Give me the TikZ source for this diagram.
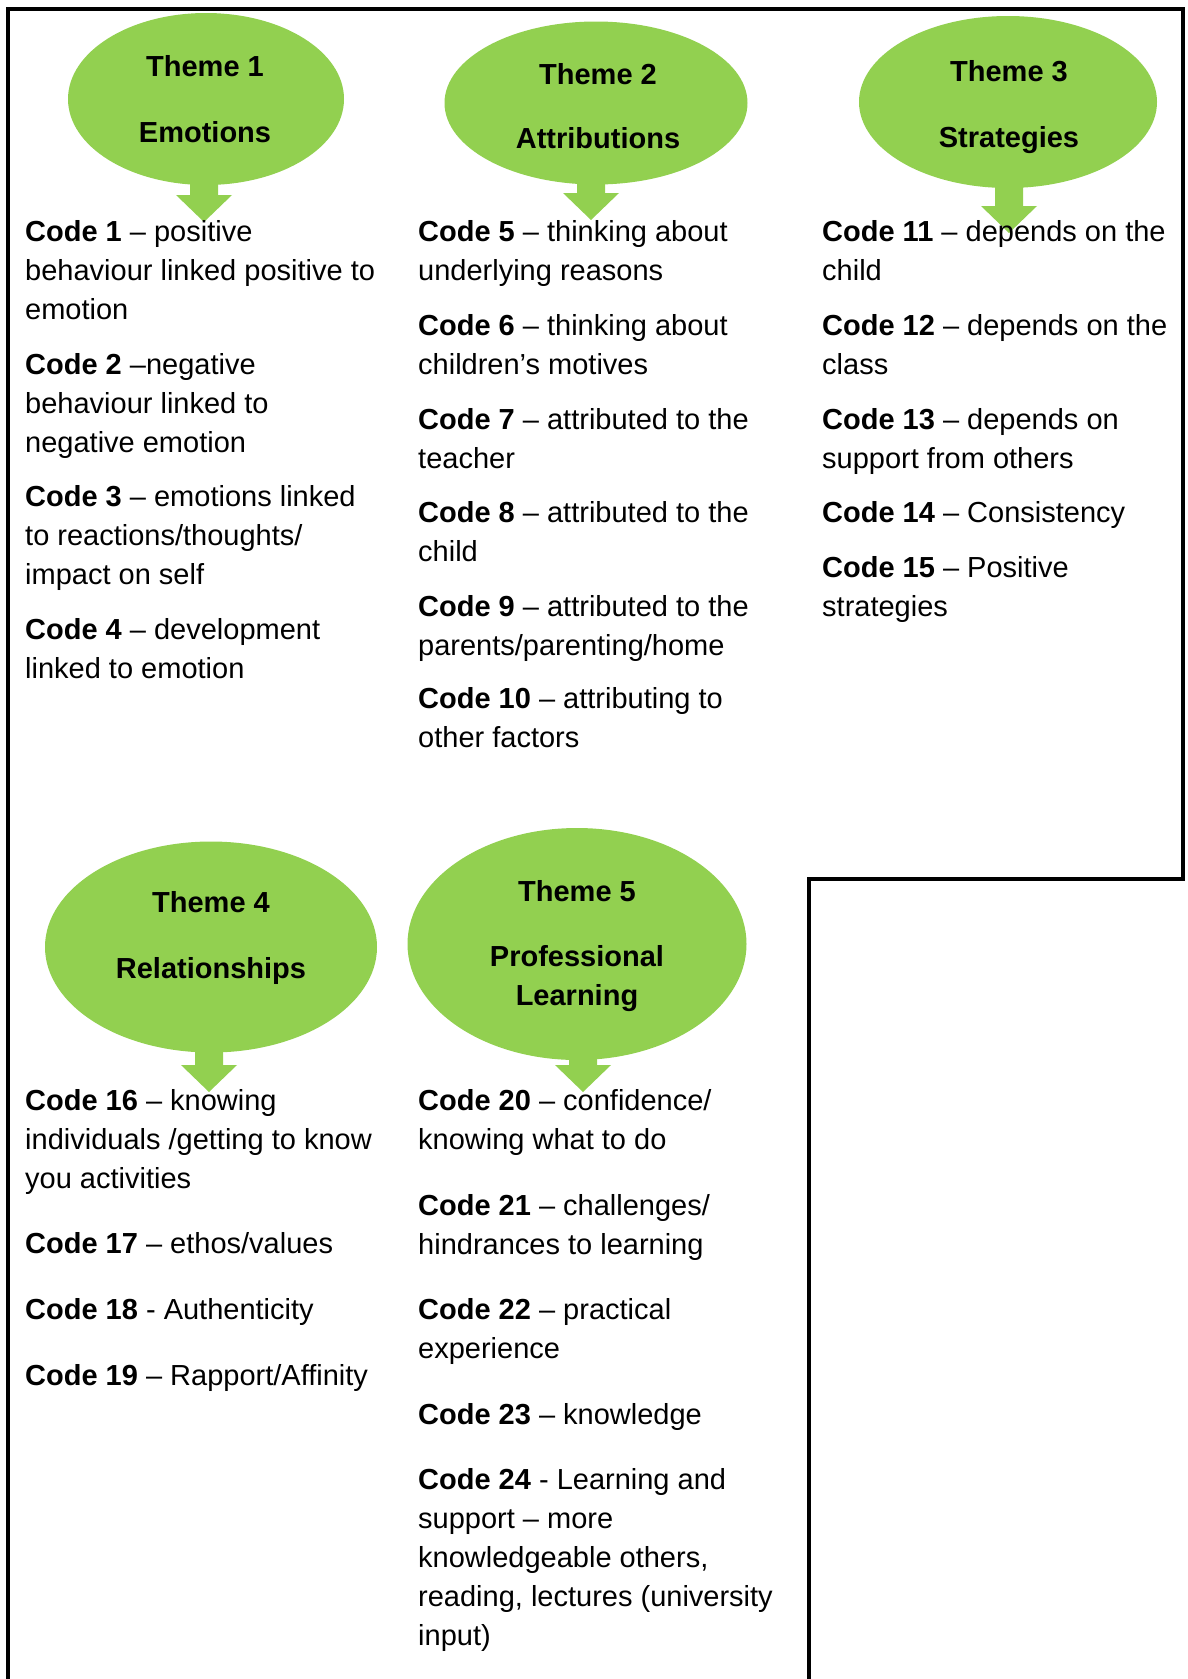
\documentclass[tikz,border=0pt]{standalone}
\usepackage{fontspec}
\setmainfont{Liberation Sans}
\usepackage{xcolor}
\usepackage{tikz}
\usetikzlibrary{calc}
\usetikzlibrary{shapes.geometric}

\definecolor{themegreen}{RGB}{146,208,80}
\newcommand{\code}[1]{\textbf{Code #1}}
% block arrow from the bottom of a theme bubble down to a tip coordinate
\newcommand{\themearrow}[2]{%
	\fill[themegreen] ($(#2 |- #1.south)+(-14,-3)$) -- ($(#2)+(-14,-27)$) -- ($(#2)+(-28,-27)$) -- (#2)
		-- ($(#2)+(28,-27)$) -- ($(#2)+(14,-27)$) -- ($(#2 |- #1.south)+(14,-3)$) -- cycle;}

\begin{document}
\begin{tikzpicture}[x=1pt,y=-1pt,font=\fontsize{29}{38.9}\selectfont,
	bubble/.style={ellipse,fill=themegreen,inner sep=0},
	themetitle/.style={align=center,inner sep=0,font=\fontsize{29}{38.9}\selectfont\bfseries},
	codes/.style={anchor=base west,align=left,inner sep=0}]
	\useasboundingbox (0,0) rectangle (1188,1679);
		\draw[line width=3.5] (8,1679) -- (8,9) -- (1183,9) -- (1183,879) -- (809,879) -- (809,1679);

		\node[bubble,minimum width=276,minimum height=172] (e1) at (206,99) {};
		\node[bubble,minimum width=303,minimum height=163] (e2) at (596,103) {};
		\node[bubble,minimum width=298,minimum height=172] (e3) at (1008,102) {};
		\node[bubble,minimum width=332,minimum height=211] (e4) at (211,947) {};
		\node[bubble,minimum width=339,minimum height=232] (e5) at (577,944) {};

		\node[themetitle] (theme1) at (205,99) {Theme 1\\[27pt]Emotions};
		\node[themetitle] (theme2) at (598,106) {Theme 2\\[25pt]Attributions};
		\node[themetitle] (theme3) at (1009,107) {Theme 3\\[27pt]Strategies};
		\node[themetitle] (theme4) at (211,938) {Theme 4\\[27pt]Relationships};
		\node[themetitle] (theme5) at (577,946) {Theme 5\\[26pt]Professional\\Learning};

		\coordinate (a1) at (204,222);
		\coordinate (a2) at (591,220);
		\coordinate (a3) at (1009,233);
		\coordinate (a4) at (209,1092);
		\coordinate (a5) at (583,1092);
		\themearrow{e1}{a1}
		\themearrow{e2}{a2}
		\themearrow{e3}{a3}
		\themearrow{e4}{a4}
		\themearrow{e5}{a5}

		% each block sits on the baseline of its last line
		\node[codes] (c1) at (25,319) {\code{1} – positive\\behaviour linked positive to\\emotion};
		\node[codes] (c2) at (25,452) {\code{2} –negative\\behaviour linked to\\negative emotion};
		\node[codes] (c3) at (25,584) {\code{3} – emotions linked\\to reactions/thoughts/\\impact on self};
		\node[codes] (c4) at (25,678) {\code{4} – development\\linked to emotion};

		\node[codes] (c5) at (418,280) {\code{5} – thinking about\\underlying reasons};
		\node[codes] (c6) at (418,374) {\code{6} – thinking about\\children’s motives};
		\node[codes] (c7) at (418,468) {\code{7} – attributed to the\\teacher};
		\node[codes] (c8) at (418,561) {\code{8} – attributed to the\\child};
		\node[codes] (c9) at (418,655) {\code{9} – attributed to the\\parents/parenting/home};
		\node[codes] (c10) at (418,747) {\code{10} – attributing to\\other factors};

		\node[codes] (c11) at (822,280) {\code{11} – depends on the\\child};
		\node[codes] (c12) at (822,374) {\code{12} – depends on the\\class};
		\node[codes] (c13) at (822,468) {\code{13} – depends on\\support from others};
		\node[codes] (c14) at (822,522) {\code{14} – Consistency};
		\node[codes] (c15) at (822,616) {\code{15} – Positive\\strategies};

		\node[codes] (c16) at (25,1188) {\code{16} – knowing\\individuals /getting to know\\you activities};
		\node[codes] (c17) at (25,1253) {\code{17} – ethos/values};
		\node[codes] (c18) at (25,1319) {\code{18} - Authenticity};
		\node[codes] (c19) at (25,1385) {\code{19} – Rapport/Affinity};

		\node[codes] (c20) at (418,1149) {\code{20} – confidence/\\knowing what to do};
		\node[codes] (c21) at (418,1254) {\code{21} – challenges/\\hindrances to learning};
		\node[codes] (c22) at (418,1358) {\code{22} – practical\\experience};
		\node[codes] (c23) at (418,1424) {\code{23} – knowledge};
		\node[codes] (c24) at (418,1645) {\code{24} - Learning and\\support – more\\knowledgeable others,\\reading, lectures (university\\input)};
	\end{tikzpicture}
\end{document}
